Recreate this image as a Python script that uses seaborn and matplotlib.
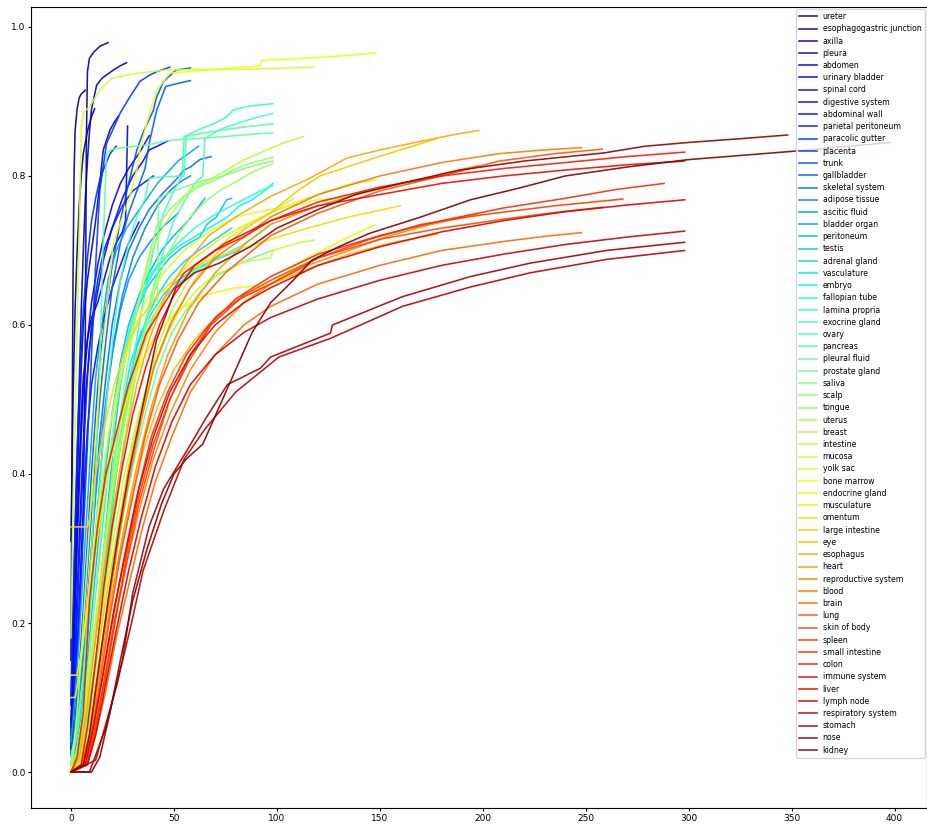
import matplotlib
matplotlib.use("Agg")
import matplotlib.pyplot as plt
import numpy as np
import pandas as pd
import seaborn as sns

# Tissue names, in legend order (shortest curve first)
tissues = [
    "ureter", "esophagogastric junction", "axilla", "pleura", "abdomen",
    "urinary bladder", "spinal cord", "digestive system", "abdominal wall",
    "parietal peritoneum", "paracolic gutter", "placenta", "trunk", "gallbladder",
    "skeletal system", "adipose tissue", "ascitic fluid", "bladder organ",
    "peritoneum", "testis", "adrenal gland", "vasculature", "embryo",
    "fallopian tube", "lamina propria", "exocrine gland", "ovary", "pancreas",
    "pleural fluid", "prostate gland", "saliva", "scalp", "tongue", "uterus",
    "breast", "intestine", "mucosa", "yolk sac", "bone marrow",
    "endocrine gland", "musculature", "omentum", "large intestine", "eye",
    "esophagus", "heart", "reproductive system", "blood", "brain", "lung",
    "skin of body", "spleen", "small intestine", "colon", "immune system",
    "liver", "lymph node", "respiratory system", "stomach", "nose", "kidney",
]

# Cumulative curves, (x, y) pairs per tissue
ureter = [(0, 0.15), (0.5, 0.42), (1, 0.66), (1.5, 0.80), (2, 0.86), (3, 0.89), (4, 0.905), (5, 0.91), (7, 0.915)]
esophagogastric_junction = [(0, 0.31), (1, 0.50), (2, 0.62), (3, 0.70), (4, 0.76), (5, 0.80), (6, 0.83), (8, 0.86), (10, 0.88), (11.5, 0.89)]
axilla = [(0, 0.07), (2, 0.12), (4, 0.20), (6, 0.35), (7, 0.60), (7.5, 0.85), (8, 0.94), (9, 0.958), (11, 0.966), (14, 0.974), (18, 0.979)]
pleura = [(0, 0.09), (1, 0.20), (2, 0.32), (3, 0.42), (4, 0.52), (5, 0.62), (6, 0.70), (7, 0.77), (8, 0.82), (9, 0.86), (10, 0.89), (12.5, 0.922), (15, 0.931), (20.5, 0.942), (24, 0.948), (27, 0.952)]
abdomen = [(0, 0.06), (1, 0.17), (2, 0.28), (3, 0.38), (4, 0.47), (5, 0.54), (6, 0.60), (8, 0.66), (10, 0.70), (12, 0.74), (14, 0.79), (15.7, 0.835), (19, 0.862), (21, 0.872), (23, 0.88)]
urinary_bladder = [(0, 0.05), (1, 0.14), (2, 0.24), (3, 0.33), (4, 0.41), (5, 0.48), (6, 0.53), (8, 0.58), (10, 0.61), (13, 0.63), (16, 0.66), (19, 0.69), (22, 0.71), (25, 0.725), (26.5, 0.74), (27, 0.80), (27.5, 0.867)]
spinal_cord = [(0, 0.04), (1, 0.12), (2, 0.21), (3, 0.30), (4, 0.38), (5, 0.45), (6, 0.51), (8, 0.58), (10, 0.63), (13, 0.68), (16, 0.72), (20, 0.76), (24, 0.79), (28, 0.81), (33, 0.83), (38, 0.854)]
digestive_system = [(0, 0.03), (1, 0.09), (2, 0.16), (3, 0.24), (4, 0.31), (5, 0.38), (6, 0.44), (7, 0.50), (9, 0.57), (12, 0.63), (16, 0.69), (20, 0.73), (25, 0.77), (30, 0.80), (35, 0.82), (38, 0.835), (42, 0.84), (47, 0.847)]
abdominal_wall = [(0, 0.02), (1, 0.06), (2, 0.11), (3, 0.17), (4, 0.23), (5, 0.29), (6, 0.35), (7, 0.41), (8, 0.46), (10, 0.52), (13, 0.57), (16, 0.61), (20, 0.65), (24, 0.68), (28, 0.71), (33, 0.738)]
parietal_peritoneum = [(0, 0.03), (1, 0.08), (2, 0.14), (3, 0.21), (4, 0.28), (5, 0.35), (6, 0.42), (7, 0.48), (8, 0.53), (10, 0.60), (13, 0.66), (16, 0.70), (20, 0.73), (25, 0.76), (30, 0.78), (35, 0.79), (40, 0.80)]
paracolic_gutter = [(0, 0.10), (1, 0.22), (2, 0.33), (3, 0.43), (4, 0.51), (5, 0.57), (6, 0.62), (8, 0.69), (10, 0.74), (12, 0.77), (14, 0.795), (16, 0.81), (19, 0.83), (22, 0.84)]
placenta = [(0, 0.03), (2, 0.10), (4, 0.20), (6, 0.32), (8, 0.44), (10, 0.56), (12, 0.68), (14, 0.78), (17.3, 0.844), (20, 0.86), (24, 0.885), (28.6, 0.906), (33.5, 0.927), (38, 0.935), (41.6, 0.94), (48, 0.946)]
trunk = [(0, 0.02), (2, 0.07), (4, 0.14), (6, 0.22), (8, 0.31), (10, 0.40), (12, 0.48), (14, 0.55), (17, 0.62), (20, 0.68), (24, 0.74), (28, 0.79), (32, 0.835), (35, 0.858), (40, 0.888), (41.6, 0.906), (45, 0.927), (51, 0.942), (58, 0.945)]
gallbladder = [(0, 0.02), (2, 0.06), (4, 0.12), (6, 0.19), (8, 0.27), (10, 0.35), (12, 0.43), (14, 0.50), (17, 0.58), (20, 0.65), (24, 0.71), (28, 0.75), (32, 0.78), (36, 0.81), (38, 0.844), (41.6, 0.888), (46, 0.92), (50, 0.923), (58, 0.928)]
skeletal_system = [(0, 0.01), (2, 0.04), (4, 0.09), (6, 0.15), (8, 0.22), (10, 0.30), (12, 0.38), (14, 0.45), (17, 0.53), (20, 0.60), (24, 0.66), (28, 0.70), (33, 0.73), (38, 0.755), (44, 0.775), (51, 0.795), (55, 0.808), (58, 0.812), (62.6, 0.822), (68, 0.826)]
adipose_tissue = [(0, 0.01), (2, 0.03), (4, 0.07), (6, 0.12), (8, 0.18), (10, 0.25), (12, 0.32), (14, 0.39), (16, 0.46), (18, 0.52), (21, 0.58), (25, 0.64), (30, 0.69), (36, 0.73), (42, 0.76), (48, 0.78), (53, 0.792), (58, 0.80)]
ascitic_fluid = [(0, 0.02), (2, 0.05), (4, 0.10), (6, 0.16), (8, 0.23), (10, 0.30), (12, 0.37), (14, 0.43), (17, 0.50), (20, 0.56), (24, 0.62), (28, 0.66), (33, 0.69), (38, 0.71), (44, 0.73), (52, 0.75)]
bladder_organ = [(0, 0.04), (2, 0.10), (4, 0.18), (6, 0.27), (8, 0.36), (10, 0.45), (12, 0.53), (15, 0.60), (18, 0.66), (22, 0.70), (27, 0.73), (32, 0.75), (37, 0.77), (42, 0.79), (47, 0.805), (52, 0.82), (57, 0.83), (62, 0.84)]
peritoneum = [(0, 0.01), (2, 0.03), (4, 0.06), (6, 0.10), (8, 0.15), (10, 0.21), (12, 0.27), (14, 0.33), (17, 0.41), (20, 0.48), (24, 0.55), (28, 0.60), (33, 0.64), (38, 0.67), (44, 0.70), (50, 0.72), (57, 0.74), (65, 0.77)]
testis = [(0, 0.01), (3, 0.03), (6, 0.07), (9, 0.12), (12, 0.19), (15, 0.27), (18, 0.36), (21, 0.45), (24, 0.52), (28, 0.58), (32, 0.62), (37, 0.65), (42, 0.67), (48, 0.69), (54.5, 0.705), (62.6, 0.718), (66, 0.735), (70.7, 0.745), (75.6, 0.768), (78, 0.77)]
adrenal_gland = [(0, 0.01), (3, 0.02), (6, 0.05), (9, 0.09), (12, 0.15), (15, 0.22), (18, 0.30), (21, 0.38), (24, 0.45), (28, 0.52), (32, 0.57), (37, 0.61), (42, 0.64), (48, 0.665), (55, 0.685), (62, 0.70), (70, 0.715), (78, 0.73)]
vasculature = [(0, 0.01), (3, 0.03), (6, 0.07), (9, 0.12), (12, 0.19), (15, 0.27), (18, 0.35), (21, 0.42), (25, 0.49), (29, 0.55), (34, 0.59), (40, 0.62), (46, 0.645), (52, 0.66), (60, 0.675), (68, 0.685), (75, 0.693), (82, 0.70)]
embryo = [(0, 0.02), (3, 0.05), (6, 0.10), (9, 0.16), (12, 0.24), (15, 0.32), (18, 0.40), (21, 0.47), (25, 0.54), (29, 0.60), (34, 0.64), (40, 0.67), (46, 0.69), (52, 0.705), (58, 0.715), (64, 0.725), (70, 0.735), (76, 0.745), (82, 0.76), (88, 0.768), (94, 0.78), (98, 0.79)]
fallopian_tube = [(0, 0.01), (3, 0.03), (6, 0.07), (9, 0.12), (12, 0.18), (15, 0.25), (18, 0.32), (22, 0.40), (26, 0.47), (30, 0.53), (35, 0.58), (40, 0.61), (45, 0.635), (50, 0.65), (56, 0.665), (62, 0.675), (68, 0.685), (75, 0.695), (82, 0.705), (90, 0.72), (98, 0.737)]
lamina_propria = [(0, 0.02), (3, 0.06), (6, 0.13), (9, 0.21), (12, 0.30), (15, 0.38), (19, 0.46), (23, 0.53), (28, 0.59), (33, 0.63), (39, 0.67), (45, 0.69), (52, 0.71), (60, 0.73), (68, 0.745), (76, 0.757), (85, 0.77), (92, 0.78), (98, 0.787)]
exocrine_gland = [(0, 0.01), (4, 0.04), (8, 0.10), (12, 0.18), (16, 0.27), (20, 0.36), (25, 0.46), (30, 0.55), (35, 0.63), (40, 0.70), (45, 0.75), (50, 0.78), (54, 0.80), (55, 0.853), (62, 0.862), (70, 0.871), (75, 0.878), (79, 0.889), (87, 0.894), (98, 0.897)]
ovary = [(0, 0.01), (4, 0.03), (8, 0.08), (12, 0.15), (16, 0.23), (20, 0.32), (25, 0.42), (30, 0.51), (35, 0.59), (40, 0.65), (45, 0.70), (50, 0.74), (56, 0.77), (60, 0.79), (64, 0.80), (65, 0.85), (72, 0.862), (80, 0.87), (88, 0.877), (98, 0.884)]
pancreas = [(0, 0.02), (3, 0.06), (6, 0.13), (9, 0.22), (12, 0.32), (15, 0.42), (18, 0.52), (21, 0.60), (24, 0.66), (28, 0.71), (32, 0.745), (36, 0.77), (38, 0.797), (45, 0.799), (55, 0.80), (56, 0.853), (65, 0.858), (75, 0.862), (85, 0.866), (98, 0.87)]
pleural_fluid = [(0, 0.01), (3, 0.05), (6, 0.13), (9, 0.25), (12, 0.40), (14, 0.55), (15.5, 0.70), (17.3, 0.83), (19, 0.835), (25, 0.838), (38, 0.842), (48, 0.848), (60, 0.85), (75, 0.853), (88, 0.856), (98, 0.858)]
prostate_gland = [(0, 0.0), (4, 0.02), (8, 0.06), (12, 0.12), (16, 0.19), (20, 0.26), (25, 0.34), (30, 0.41), (36, 0.48), (42, 0.54), (49, 0.59), (56, 0.62), (63, 0.645), (70, 0.665), (77, 0.675), (84, 0.685), (91, 0.693), (98, 0.70)]
saliva = [(0, 0.0), (3, 0.03), (6, 0.08), (10, 0.16), (14, 0.25), (18, 0.34), (22, 0.42), (27, 0.50), (32, 0.56), (37, 0.60), (42, 0.62), (42.5, 0.77), (50, 0.78), (58, 0.788), (66, 0.795), (74, 0.80), (82, 0.808), (90, 0.815), (98, 0.82)]
scalp = [(0, 0.0), (3, 0.02), (6, 0.07), (10, 0.15), (14, 0.25), (18, 0.35), (22, 0.44), (26, 0.52), (30, 0.59), (35, 0.66), (41.7, 0.733), (48, 0.755), (54.5, 0.772), (62.6, 0.786), (70.7, 0.795), (78.8, 0.808), (86.9, 0.817), (98, 0.825)]
tongue = [(0, 0.0), (4, 0.02), (8, 0.07), (12, 0.15), (16, 0.24), (20, 0.33), (25, 0.43), (30, 0.51), (35, 0.58), (40, 0.64), (46, 0.69), (52, 0.72), (58, 0.745), (65, 0.765), (72, 0.78), (80, 0.792), (88, 0.805), (98, 0.817)]
uterus = [(0, 0.0), (4, 0.01), (8, 0.05), (12, 0.11), (16, 0.19), (20, 0.27), (25, 0.36), (30, 0.44), (36, 0.51), (42, 0.57), (49, 0.62), (57, 0.66), (66, 0.69), (76, 0.715), (86, 0.735), (96.6, 0.75), (108, 0.77)]
breast = [(0, 0.0), (3, 0.02), (6, 0.08), (9, 0.16), (12, 0.25), (15, 0.34), (19, 0.43), (23, 0.51), (28, 0.58), (33, 0.63), (40, 0.705), (44.8, 0.732), (51.3, 0.759), (57.8, 0.781), (67.5, 0.795), (75.6, 0.808), (83.6, 0.821), (93.4, 0.833), (103, 0.844), (113, 0.853)]
intestine = [(0, 0.0), (4, 0.01), (8, 0.06), (12, 0.14), (16, 0.23), (21, 0.32), (26, 0.40), (32, 0.47), (38, 0.53), (45, 0.58), (53, 0.62), (62, 0.65), (72, 0.67), (85, 0.685), (97, 0.69), (98, 0.70), (105, 0.706), (112, 0.711), (118, 0.714)]
mucosa = [(0, 0.18), (1, 0.35), (2, 0.48), (3, 0.60), (4, 0.72), (5, 0.86), (6, 0.885), (9, 0.893), (14, 0.915), (20, 0.931), (30, 0.937), (45, 0.942), (60, 0.943), (77, 0.943), (95, 0.944), (118, 0.946)]
yolk_sac = [(0, 0.10), (2, 0.10), (4, 0.13), (7, 0.20), (10, 0.28), (14, 0.37), (18, 0.45), (23, 0.52), (29, 0.58), (36, 0.63), (45, 0.67), (55, 0.70), (67, 0.725), (80, 0.745), (96.6, 0.755), (110, 0.762), (120, 0.768), (135, 0.772)]
bone_marrow = [(0, 0.0), (3, 0.08), (6, 0.20), (9, 0.33), (12, 0.45), (15, 0.56), (17.3, 0.62), (20.5, 0.71), (28.6, 0.772), (31.9, 0.808), (33.5, 0.835), (36.7, 0.87), (41.6, 0.915), (48, 0.938), (69, 0.943), (91.7, 0.948), (92.5, 0.955), (125.7, 0.96), (148, 0.965)]
endocrine_gland = [(0, 0.13), (3, 0.13), (5, 0.16), (8, 0.22), (12, 0.30), (16, 0.37), (21, 0.44), (27, 0.50), (34, 0.55), (42, 0.59), (52, 0.62), (65, 0.64), (80, 0.65), (96.6, 0.654), (112.8, 0.687), (129, 0.71), (140, 0.725), (148, 0.734)]
musculature = [(0, 0.0), (4, 0.02), (7, 0.08), (11, 0.17), (15, 0.27), (19, 0.36), (24, 0.44), (29, 0.51), (35, 0.57), (42, 0.62), (50, 0.66), (60, 0.69), (72, 0.715), (85, 0.735), (96.6, 0.75), (110, 0.765), (125, 0.78), (137, 0.79), (148, 0.795)]
omentum = [(0, 0.329), (8, 0.329), (9, 0.34), (12, 0.40), (16, 0.46), (21, 0.52), (27, 0.57), (34, 0.61), (42, 0.64), (52, 0.665), (65, 0.685), (80, 0.70), (97, 0.715), (115, 0.73), (135, 0.745), (160, 0.76)]
large_intestine = [(0, 0.0), (5, 0.02), (9, 0.08), (13, 0.16), (18, 0.25), (23, 0.33), (28, 0.41), (34, 0.48), (41, 0.55), (50, 0.61), (60, 0.66), (72, 0.70), (85, 0.73), (96.6, 0.75), (110, 0.78), (121, 0.80), (141.7, 0.819), (160, 0.835), (177.5, 0.85)]
eye = [(0, 0.0), (5, 0.01), (9, 0.05), (13, 0.12), (18, 0.20), (23, 0.28), (29, 0.36), (35, 0.43), (42, 0.49), (50, 0.54), (60, 0.58), (72, 0.615), (85, 0.64), (97, 0.655), (115, 0.675), (135, 0.695), (155, 0.71), (178, 0.722)]
esophagus = [(0, 0.0), (4, 0.02), (8, 0.09), (12, 0.18), (16, 0.27), (21, 0.36), (26, 0.44), (32, 0.52), (38, 0.58), (46, 0.64), (55, 0.68), (67, 0.72), (80, 0.745), (96.6, 0.772), (116, 0.797), (134, 0.824), (150, 0.835), (169, 0.846), (185, 0.855), (198, 0.861)]
heart = [(0, 0.0), (6, 0.01), (10, 0.06), (15, 0.15), (20, 0.24), (26, 0.33), (32, 0.41), (39, 0.49), (47, 0.56), (57, 0.62), (70, 0.67), (85, 0.71), (97, 0.735), (120, 0.76), (145, 0.78), (170, 0.795), (185, 0.806), (198, 0.814)]
reproductive_system = [(0, 0.0), (7, 0.01), (11, 0.05), (16, 0.12), (21, 0.20), (27, 0.28), (33, 0.35), (40, 0.42), (48, 0.48), (58, 0.54), (70, 0.59), (84, 0.63), (97, 0.655), (115, 0.68), (135, 0.70), (155, 0.72), (175, 0.735), (197, 0.749)]
blood = [(0, 0.0), (5, 0.01), (9, 0.05), (13, 0.13), (18, 0.22), (23, 0.31), (28, 0.39), (34, 0.47), (40, 0.54), (48, 0.60), (58, 0.65), (70, 0.69), (85, 0.72), (97, 0.745), (120, 0.775), (150, 0.80), (180, 0.818), (208, 0.83), (230, 0.835), (248, 0.838)]
brain = [(0, 0.0), (8, 0.01), (12, 0.05), (17, 0.11), (22, 0.18), (28, 0.25), (34, 0.32), (41, 0.39), (49, 0.45), (58, 0.51), (70, 0.56), (84, 0.60), (97, 0.625), (120, 0.655), (150, 0.68), (180, 0.70), (210, 0.712), (230, 0.719), (248, 0.724)]
lung = [(0, 0.0), (6, 0.01), (10, 0.05), (14, 0.12), (19, 0.21), (24, 0.29), (30, 0.37), (36, 0.45), (43, 0.52), (52, 0.58), (62, 0.63), (75, 0.67), (97, 0.72), (120, 0.75), (150, 0.78), (180, 0.80), (208, 0.82), (235, 0.83), (258, 0.836)]
skin_of_body = [(0, 0.0), (7, 0.01), (11, 0.05), (16, 0.12), (21, 0.20), (27, 0.28), (33, 0.36), (40, 0.43), (48, 0.50), (58, 0.56), (70, 0.61), (84, 0.64), (97, 0.66), (120, 0.69), (150, 0.715), (180, 0.73), (210, 0.742), (235, 0.751), (258, 0.758)]
spleen = [(0, 0.0), (8, 0.01), (12, 0.06), (17, 0.13), (22, 0.21), (27, 0.29), (33, 0.37), (40, 0.44), (48, 0.50), (57, 0.55), (68, 0.60), (82, 0.635), (97, 0.655), (120, 0.69), (145, 0.715), (170, 0.735), (200, 0.748), (235, 0.76), (268, 0.769)]
small_intestine = [(0, 0.0), (6, 0.01), (10, 0.05), (15, 0.12), (20, 0.20), (26, 0.29), (32, 0.37), (39, 0.45), (47, 0.51), (56, 0.56), (67, 0.60), (80, 0.635), (97, 0.665), (120, 0.695), (150, 0.72), (180, 0.74), (210, 0.757), (240, 0.77), (265, 0.782), (288, 0.79)]
colon = [(0, 0.0), (3, 0.02), (6, 0.08), (9, 0.23), (13, 0.33), (17, 0.40), (22, 0.455), (28, 0.52), (36.7, 0.589), (46.5, 0.634), (55, 0.67), (70, 0.70), (85, 0.72), (97, 0.74), (120, 0.765), (150, 0.785), (180, 0.80), (210, 0.81), (240, 0.818), (270, 0.826), (298, 0.832)]
immune_system = [(0, 0.0), (5, 0.01), (8, 0.06), (12, 0.15), (16, 0.25), (20, 0.33), (25, 0.41), (30, 0.48), (36, 0.54), (43, 0.60), (50, 0.64), (60, 0.68), (75, 0.71), (97, 0.74), (120, 0.76), (150, 0.775), (180, 0.79), (210, 0.80), (240, 0.808), (270, 0.815), (298, 0.82)]
liver = [(0, 0.0), (7, 0.01), (11, 0.06), (16, 0.14), (21, 0.22), (27, 0.30), (33, 0.38), (40, 0.45), (48, 0.51), (58, 0.56), (70, 0.60), (84, 0.63), (97, 0.65), (120, 0.68), (150, 0.705), (180, 0.725), (210, 0.74), (240, 0.752), (270, 0.761), (298, 0.768)]
lymph_node = [(0, 0.0), (8, 0.01), (12, 0.05), (17, 0.12), (22, 0.19), (28, 0.27), (34, 0.34), (41, 0.41), (49, 0.47), (58, 0.52), (70, 0.56), (84, 0.59), (97, 0.61), (120, 0.635), (150, 0.66), (180, 0.68), (210, 0.695), (240, 0.708), (270, 0.718), (298, 0.726)]
respiratory_system = [(0, 0.0), (12, 0.016), (22, 0.114), (29, 0.195), (35, 0.27), (45, 0.35), (55, 0.42), (65, 0.46), (80, 0.51), (101, 0.557), (126, 0.582), (161, 0.625), (194, 0.651), (223, 0.67), (260, 0.688), (298, 0.70)]
stomach = [(0, 0.0), (9, 0.0), (17, 0.06), (25, 0.15), (30, 0.24), (38, 0.33), (45, 0.38), (56, 0.43), (66, 0.477), (76, 0.52), (92, 0.542), (97, 0.557), (126, 0.589), (127, 0.60), (161, 0.638), (194, 0.665), (223, 0.683), (260, 0.70), (298, 0.711)]
nose = [(0, 0.0), (6, 0.01), (9, 0.05), (13, 0.13), (18, 0.23), (23, 0.32), (28, 0.40), (34, 0.48), (41.6, 0.58), (51, 0.65), (60, 0.67), (72, 0.683), (87, 0.705), (100, 0.73), (120, 0.755), (138, 0.775), (160, 0.79), (189, 0.808), (220, 0.82), (259, 0.831), (279, 0.84), (300, 0.845), (325, 0.85), (348, 0.855)]
kidney = [(0, 0.0), (10, 0.0), (14, 0.02), (19, 0.08), (24, 0.15), (30, 0.23), (37, 0.30), (44, 0.36), (50, 0.40), (56, 0.42), (64, 0.44), (72, 0.49), (80, 0.54), (88, 0.59), (97, 0.63), (108, 0.66), (117, 0.687), (130, 0.705), (145, 0.723), (170, 0.745), (194, 0.768), (218, 0.784), (240, 0.80), (270, 0.812), (300, 0.822), (350, 0.833), (398, 0.845)]

curves = [
    ureter, esophagogastric_junction, axilla, pleura, abdomen, urinary_bladder,
    spinal_cord, digestive_system, abdominal_wall, parietal_peritoneum,
    paracolic_gutter, placenta, trunk, gallbladder, skeletal_system,
    adipose_tissue, ascitic_fluid, bladder_organ, peritoneum, testis,
    adrenal_gland, vasculature, embryo, fallopian_tube, lamina_propria,
    exocrine_gland, ovary, pancreas, pleural_fluid, prostate_gland, saliva,
    scalp, tongue, uterus, breast, intestine, mucosa, yolk_sac, bone_marrow,
    endocrine_gland, musculature, omentum, large_intestine, eye, esophagus,
    heart, reproductive_system, blood, brain, lung, skin_of_body, spleen,
    small_intestine, colon, immune_system, liver, lymph_node,
    respiratory_system, stomach, nose, kidney,
]

# Long-form table: one row per point, keeping point order within each tissue
rows = []
for name, pts in zip(tissues, curves):
    for order, (xv, yv) in enumerate(pts):
        rows.append({"tissue": name, "order": order, "x": xv, "y": yv})
df = pd.DataFrame(rows)

cmap = plt.get_cmap("jet")
palette = {name: cmap(i / (len(tissues) - 1)) for i, name in enumerate(tissues)}

fig = plt.figure(figsize=(9.27, 8.24), dpi=100)
ax = fig.add_axes([31 / 927, 16 / 824, 1 - 31 / 927 - 0.0005, (808 - 7) / 824])

sns.lineplot(
    data=df, x="x", y="y", hue="tissue", hue_order=tissues, palette=palette,
    estimator=None, sort=False, linewidth=1.15, alpha=0.9, ax=ax,
)

ax.set_xlim(-19.4, 415.5)
ax.set_ylim(-0.0483, 1.0268)
ax.set_xticks(np.arange(0, 401, 50))
ax.set_yticks(np.arange(0, 1.01, 0.2))
ax.set_xlabel("")
ax.set_ylabel("")
ax.tick_params(labelsize=6.5, length=2.5, pad=1.5)

handles, labels = ax.get_legend_handles_labels()
ax.legend(
    handles, labels, loc="upper right", fontsize=5.6, frameon=True,
    borderaxespad=0.25, handlelength=2.2, labelspacing=0.415, borderpad=0.4,
)

fig.savefig("out.png", dpi=100)
